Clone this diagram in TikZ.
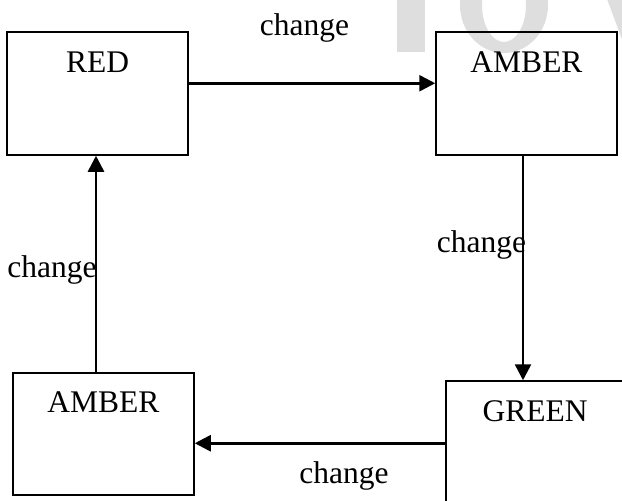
\documentclass[tikz,border=0pt]{standalone}
\usepackage{fontspec}
\setmainfont{Liberation Serif}
\usetikzlibrary{arrows.meta}
\begin{document}
\begin{tikzpicture}[x=1pt,y=-1pt,
  statebox/.style={draw=black, line width=1.5pt, rectangle, minimum width=181pt, minimum height=123pt, inner sep=0pt},
  arr/.style={draw=black, line width=2.6pt, -{Triangle[length=16pt,width=16pt]}},
  lbl/.style={anchor=base, inner sep=0pt, font=\fontsize{31.5}{36}\selectfont},
  wm/.style={fill=black!13, draw=none}]
\clip (0,0) rectangle (622,501);
\fill[white] (0,0) rectangle (622,501);
% watermark
\fill[wm] (397,-1) rectangle (425,52);
\fill[wm, even odd rule] (504,5) ellipse [x radius=44pt, y radius=48pt] (504,5) ellipse [x radius=22pt, y radius=37pt];
\fill[wm] (607,-1) -- (623,-1) -- (623,42) -- cycle;
% boxes
\node[statebox, label={[lbl, yshift=-41pt]north:RED}] (red) at (97.5,93.5) {};
\node[statebox, label={[lbl, yshift=-41pt]north:AMBER}] (amberA) at (526.5,93.5) {};
\node[statebox, minimum width=178pt, label={[lbl, yshift=-41pt]north:GREEN}] (green) at (535,442.5) {};
\node[statebox, minimum height=122pt, label={[lbl, yshift=-40pt]north:AMBER}] (amberB) at (103.5,434) {};
% arrows
\draw[arr] ([yshift=-52pt]red.north east) -- ([yshift=-52pt]red.north east -| amberA.west);
\draw[arr] ([xshift=-3.5pt]amberA.south) -- ([xshift=-3.5pt]amberA.south |- green.north);
\draw[arr] ([yshift=-63pt]green.north west) -- ([yshift=-63pt]green.north west -| amberB.east);
\draw[arr] ([xshift=-7.5pt]amberB.north) -- ([xshift=-7.5pt]amberB.north |- red.south);
% labels
\node[lbl] (c1) at (304.5,35) {change};
\node[lbl] (c2) at (481.5,252) {change};
\node[lbl] (c3) at (52,277) {change};
\node[lbl] (c4) at (344,483) {change};
\end{tikzpicture}
\end{document}
